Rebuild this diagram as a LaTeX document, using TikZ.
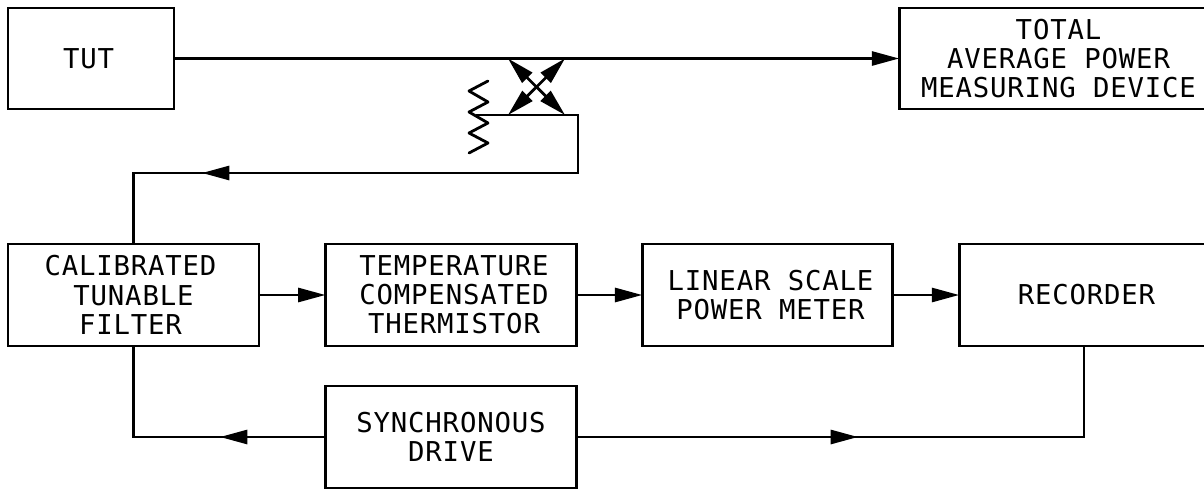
\documentclass[tikz,border=0pt]{standalone}
\usepackage{fontspec}
\setmainfont{DejaVu Sans Mono}[LetterSpace=3]
\usetikzlibrary{arrows.meta}
\newcommand{\nudge}{\hspace*{4.5pt}}
\newcommand{\nudgeb}{\hspace*{3.5pt}}
\tikzset{
  x=0.75pt,y=-0.75pt,
  line/.style={line width=2.1pt,line join=miter,color=black},
  conn/.style={line,-{Triangle[length=20.5pt,width=10.5pt]}},
  box/.style={line,draw,inner sep=0pt,outer sep=0pt,align=center,
    font=\fontsize{20.5pt}{21.9pt}\selectfont},
}
\begin{document}
\begin{tikzpicture}
\useasboundingbox (0,0) rectangle (1204,489);
\node[box,minimum width=124.5pt,minimum height=75.8pt] (tut) at (91,58.5) {TUT\nudgeb};
\node[box,minimum width=239pt,minimum height=75.8pt] (tot) at (1058.5,58.5) {TOTAL\\AVERAGE POWER\\MEASURING DEVICE};
\node[box,minimum width=188.3pt,minimum height=76.5pt] (cal) at (133.5,295) {CALIBRATED\nudge\\TUNABLE\nudge\\FILTER\nudge};
\node[box,minimum width=188.3pt,minimum height=76.5pt] (tem) at (451,295) {\nudge TEMPERATURE\\\nudge COMPENSATED\\\nudge THERMISTOR};
\node[box,minimum width=187.8pt,minimum height=76.5pt] (lin) at (767.5,295) {\nudge LINEAR SCALE\\\nudge POWER METER};
\node[box,minimum width=191pt,minimum height=76.5pt] (rec) at (1086.5,295) {RECORDER};
\node[box,minimum width=188.3pt,minimum height=76.5pt] (syn) at (451,437) {SYNCHRONOUS\\DRIVE};
\coordinate (tl) at (508,58.5);
\coordinate (tr) at (565,58.5);
\coordinate (bl) at (508,115);
\coordinate (br) at (565,115);
\coordinate (cx) at (536.5,87);
\coordinate (rs) at (476,115);
\coordinate (rc) at (578,115);
\coordinate (fc) at (578,173);
\coordinate (fa) at (202,173);
\coordinate (sa) at (220,437);
\coordinate (sl) at (133.5,437);
\coordinate (ra) at (858,437);
\coordinate (rr) at (1084,437);
\draw[conn] (tut.east) -- (tot.west);
\draw[conn] (cal.east) -- (tem.west);
\draw[conn] (tem.east) -- (lin.west);
\draw[conn] (lin.east) -- (rec.west);
\draw[conn] (cx) -- (tl);
\draw[conn] (cx) -- (tr);
\draw[conn] (cx) -- (bl);
\draw[conn] (cx) -- (br);
\draw[line,line join=round,line cap=round] (488,81) -- (469,91) -- (488,102) -- (469,112) -- (488,123) -- (469,133) -- (488,143) -- (469,153);
\draw[line] (rs) -- (rc) -- (fc) -- (fa -| cal.north) -- (cal.north);
\draw[conn] (fc) -- (fa);
\draw[line] (syn.west) -- (sl) -- (cal.south);
\draw[conn] (syn.west) -- (sa);
\draw[line] (syn.east) -- (rr) -- (rr |- rec.south);
\draw[conn] (syn.east) -- (ra);
\end{tikzpicture}
\end{document}
